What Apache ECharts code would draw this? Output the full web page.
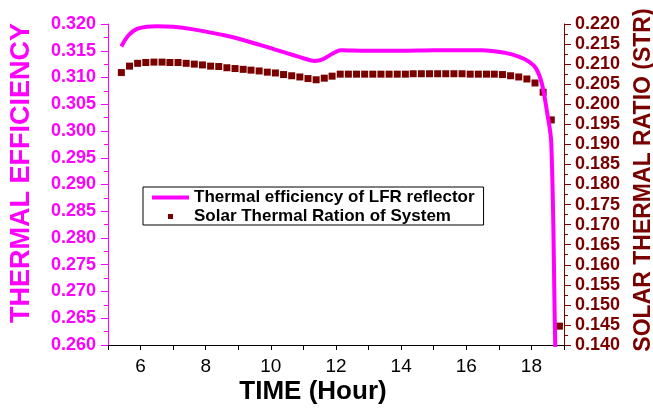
<!DOCTYPE html>
<html>
<head>
<meta charset="utf-8">
<script src="https://cdn.jsdelivr.net/npm/echarts@6/dist/echarts.min.js"></script>
<style>
  html, body { margin: 0; padding: 0; background: #fff; }
  #chart { width: 653px; height: 410px; }
</style>
</head>
<body>
<div id="chart"></div>
<script>
// Thermal efficiency of LFR reflector (left axis)
var effTime = [5.41, 5.63, 5.89, 6.2, 6.5, 7.0, 7.62, 8.64, 9.66, 10.68, 11.0, 11.34, 11.59, 11.9, 12.15,
  12.92, 14.0, 15.0, 16.49, 17.2, 17.61, 17.91, 18.14, 18.32, 18.47, 18.61, 18.73, 18.76];
var effValues = [0.3158, 0.3179, 0.3191, 0.3195, 0.3196, 0.3195, 0.3190, 0.3178, 0.3161, 0.3142, 0.3136, 0.3131, 0.3134, 0.3145, 0.3151,
  0.3150, 0.3150, 0.3151, 0.3151, 0.3146, 0.3139, 0.3130, 0.3117, 0.3089, 0.3039, 0.2977, 0.2604, 0.2550];

// Solar thermal ratio (right axis)
var strTime = [5.41, 5.66, 5.91, 6.16, 6.41, 6.66, 6.90, 7.15, 7.40, 7.65, 7.90, 8.15, 8.40, 8.65, 8.90,
  9.15, 9.39, 9.64, 9.89, 10.14, 10.39, 10.64, 10.89, 11.14, 11.39, 11.64, 11.88, 12.13, 12.38, 12.63,
  12.88, 13.13, 13.38, 13.63, 13.88, 14.13, 14.37, 14.62, 14.87, 15.12, 15.37, 15.62, 15.87, 16.12, 16.37,
  16.62, 16.86, 17.11, 17.36, 17.61, 17.86, 18.11, 18.36, 18.61, 18.86];
var strValues = [0.2079, 0.2095, 0.2102, 0.2104, 0.2105, 0.2105, 0.2104, 0.2104, 0.2102, 0.2100, 0.2098, 0.2095, 0.2094, 0.2091, 0.2089,
  0.2087, 0.2085, 0.2083, 0.2080, 0.2078, 0.2074, 0.2071, 0.2068, 0.2064, 0.2061, 0.2065, 0.2070, 0.2075, 0.2075, 0.2075,
  0.2075, 0.2075, 0.2075, 0.2075, 0.2075, 0.2075, 0.2076, 0.2076, 0.2076, 0.2076, 0.2076, 0.2076, 0.2076, 0.2075, 0.2075,
  0.2075, 0.2075, 0.2074, 0.2071, 0.2068, 0.2063, 0.2053, 0.2030, 0.1961, 0.1447];

var xTickLabels = ['6', '8', '10', '12', '14', '16', '18'];

var MAGENTA = '#ff00ff';
var DARKRED = '#7a0000';
var FONT = '"Liberation Sans", Arial, sans-serif';

function zip(xs, ys) {
  return xs.map(function (x, i) { return [x, ys[i]]; });
}

var chart = echarts.init(document.getElementById('chart'), null, { renderer: 'canvas' });

var option = {
  animation: false,
  textStyle: { fontFamily: FONT },
  grid: { left: 108, right: 89, top: 24, bottom: 65 },
  legend: {
    orient: 'vertical',
    left: 143,
    top: 187,
    borderColor: '#000',
    borderWidth: 1,
    borderRadius: 0,
    padding: [2, 9, 0, 9],
    itemGap: 2,
    itemWidth: 37,
    itemHeight: 5,
    textStyle: { fontFamily: FONT, fontWeight: 'bold', fontSize: 17, color: '#000' },
    data: [
      { name: 'Thermal efficiency of LFR reflector', icon: 'path://M0,0h37v4h-37z' },
      { name: 'Solar Thermal Ration of System', icon: 'path://M0,0h5v5h-5z' }
    ]
  },
  xAxis: {
    type: 'value',
    min: 5,
    max: 19,
    interval: 1,
    axisLine: { show: true, lineStyle: { color: '#000', width: 1 } },
    axisTick: { show: true, length: 5, lineStyle: { color: '#000', width: 1 } },
    splitLine: { show: false },
    axisLabel: {
      margin: 12,
      fontSize: 19,
      color: '#000',
      fontFamily: FONT,
      formatter: function (v) {
        var s = String(v);
        return xTickLabels.indexOf(s) >= 0 ? s : '';
      }
    }
  },
  yAxis: [
    {
      type: 'value',
      position: 'left',
      min: 0.26,
      max: 0.32,
      interval: 0.005,
      axisLine: { show: true, lineStyle: { color: MAGENTA, width: 1 } },
      axisTick: { show: true, length: 7, lineStyle: { color: MAGENTA, width: 1 } },
      minorTick: { show: true, splitNumber: 2, length: 4, lineStyle: { color: MAGENTA } },
      splitLine: { show: false },
      axisLabel: {
        margin: 12,
        fontSize: 18,
        fontWeight: 'bold',
        color: MAGENTA,
        fontFamily: FONT,
        formatter: function (v) { return v.toFixed(3); }
      }
    },
    {
      type: 'value',
      position: 'right',
      min: 0.14,
      max: 0.22,
      interval: 0.005,
      axisLine: { show: true, lineStyle: { color: DARKRED, width: 1 } },
      axisTick: { show: true, length: 7, lineStyle: { color: DARKRED, width: 1 } },
      minorTick: { show: true, splitNumber: 2, length: 4, lineStyle: { color: DARKRED } },
      splitLine: { show: false },
      axisLabel: {
        margin: 11,
        fontSize: 18,
        fontWeight: 'bold',
        color: DARKRED,
        fontFamily: FONT,
        formatter: function (v) { return v.toFixed(3); }
      }
    }
  ],
  series: [
    {
      name: 'Thermal efficiency of LFR reflector',
      type: 'line',
      yAxisIndex: 0,
      data: zip(effTime, effValues),
      showSymbol: false,
      symbol: 'none',
      smooth: 0.35,
      clip: true,
      lineStyle: { color: MAGENTA, width: 4 },
      itemStyle: { color: MAGENTA },
      z: 3
    },
    {
      name: 'Solar Thermal Ration of System',
      type: 'scatter',
      yAxisIndex: 1,
      data: zip(strTime, strValues),
      symbol: 'rect',
      symbolSize: 7,
      itemStyle: { color: DARKRED, opacity: 1 },
      z: 2
    }
  ],
  graphic: [
    {
      type: 'text',
      x: 22,
      y: 173,
      rotation: Math.PI / 2,
      style: {
        text: 'THERMAL EFFICIENCY',
        fill: MAGENTA,
        font: 'bold 27px ' + FONT,
        textAlign: 'center',
        textVerticalAlign: 'middle'
      }
    },
    {
      type: 'text',
      x: 644,
      y: 180,
      rotation: Math.PI / 2,
      style: {
        text: 'SOLAR THERMAL RATIO (STR)',
        fill: DARKRED,
        font: 'bold 23px ' + FONT,
        textAlign: 'center',
        textVerticalAlign: 'middle'
      }
    },
    {
      type: 'text',
      x: 313,
      y: 392,
      style: {
        text: 'TIME (Hour)',
        fill: '#000',
        font: 'bold 26px ' + FONT,
        textAlign: 'center',
        textVerticalAlign: 'middle'
      }
    }
  ]
};

chart.setOption(option);
</script>
</body>
</html>
